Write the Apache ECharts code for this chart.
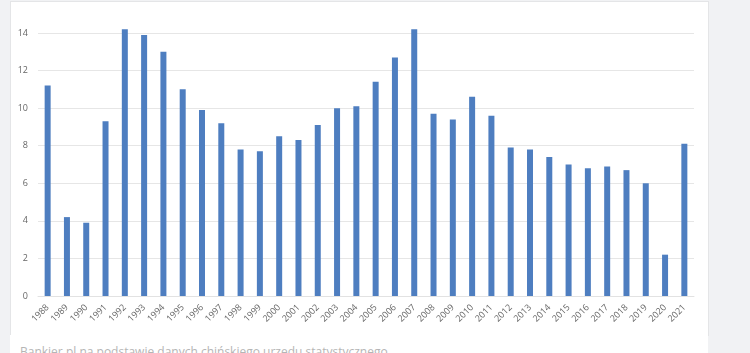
<!DOCTYPE html>
<html><head><meta charset="utf-8">
<script src="https://cdn.jsdelivr.net/npm/echarts@6/dist/echarts.min.js"></script>
<style>
html,body{margin:0;padding:0;width:750px;height:353px;overflow:hidden;background:#f1f2f4;font-family:"Open Sans",Arial,sans-serif;}
#card{position:absolute;left:10px;top:1px;width:697px;height:333px;background:#fff;border:1px solid #e4e5e7;}
#cap{position:absolute;left:10px;top:335px;width:698px;height:30px;background:#fff;}
#captext{position:absolute;left:20px;top:343px;font-size:12px;color:#b5b5b5;white-space:nowrap;}
#chart{position:absolute;left:0;top:0;width:750px;height:353px;}
</style></head>
<body>
<div id="card"></div><div id="cap"></div>
<div id="captext">Bankier.pl na podstawie danych chińskiego urzędu statystycznego</div>
<div id="chart"></div>
<script>
var years = ['1988','1989','1990','1991','1992','1993','1994','1995','1996','1997','1998','1999','2000','2001','2002','2003','2004','2005','2006','2007','2008','2009','2010','2011','2012','2013','2014','2015','2016','2017','2018','2019','2020','2021'];
var growth = [11.2,4.2,3.9,9.3,14.2,13.9,13.0,11.0,9.9,9.2,7.8,7.7,8.5,8.3,9.1,10.0,10.1,11.4,12.7,14.2,9.7,9.4,10.6,9.6,7.9,7.8,7.4,7.0,6.8,6.9,6.7,6.0,2.2,8.1];
var chart = echarts.init(document.getElementById('chart'), null, {renderer:'canvas'});
chart.setOption({
  backgroundColor:'transparent',
  animation:false,
  grid:{left:38,right:56,top:33,bottom:57,containLabel:false},
  xAxis:{type:'category',data:years,
    axisLine:{show:true,lineStyle:{color:'#e2e2e2'}},
    axisTick:{show:false},
    axisLabel:{rotate:45,fontSize:9,color:'#666666',margin:10,interval:0,fontFamily:'Open Sans'}},
  yAxis:{type:'value',min:0,max:14,interval:2,
    axisLine:{show:false},axisTick:{show:false},
    splitLine:{lineStyle:{color:'#e6e6e6'}},
    axisLabel:{fontSize:9,color:'#666666',margin:10,fontFamily:'Open Sans'}},
  series:[{type:'bar',data:growth,barWidth:6,clip:false,itemStyle:{color:'#4e7ec0'}}]
});
</script>
</body></html>
